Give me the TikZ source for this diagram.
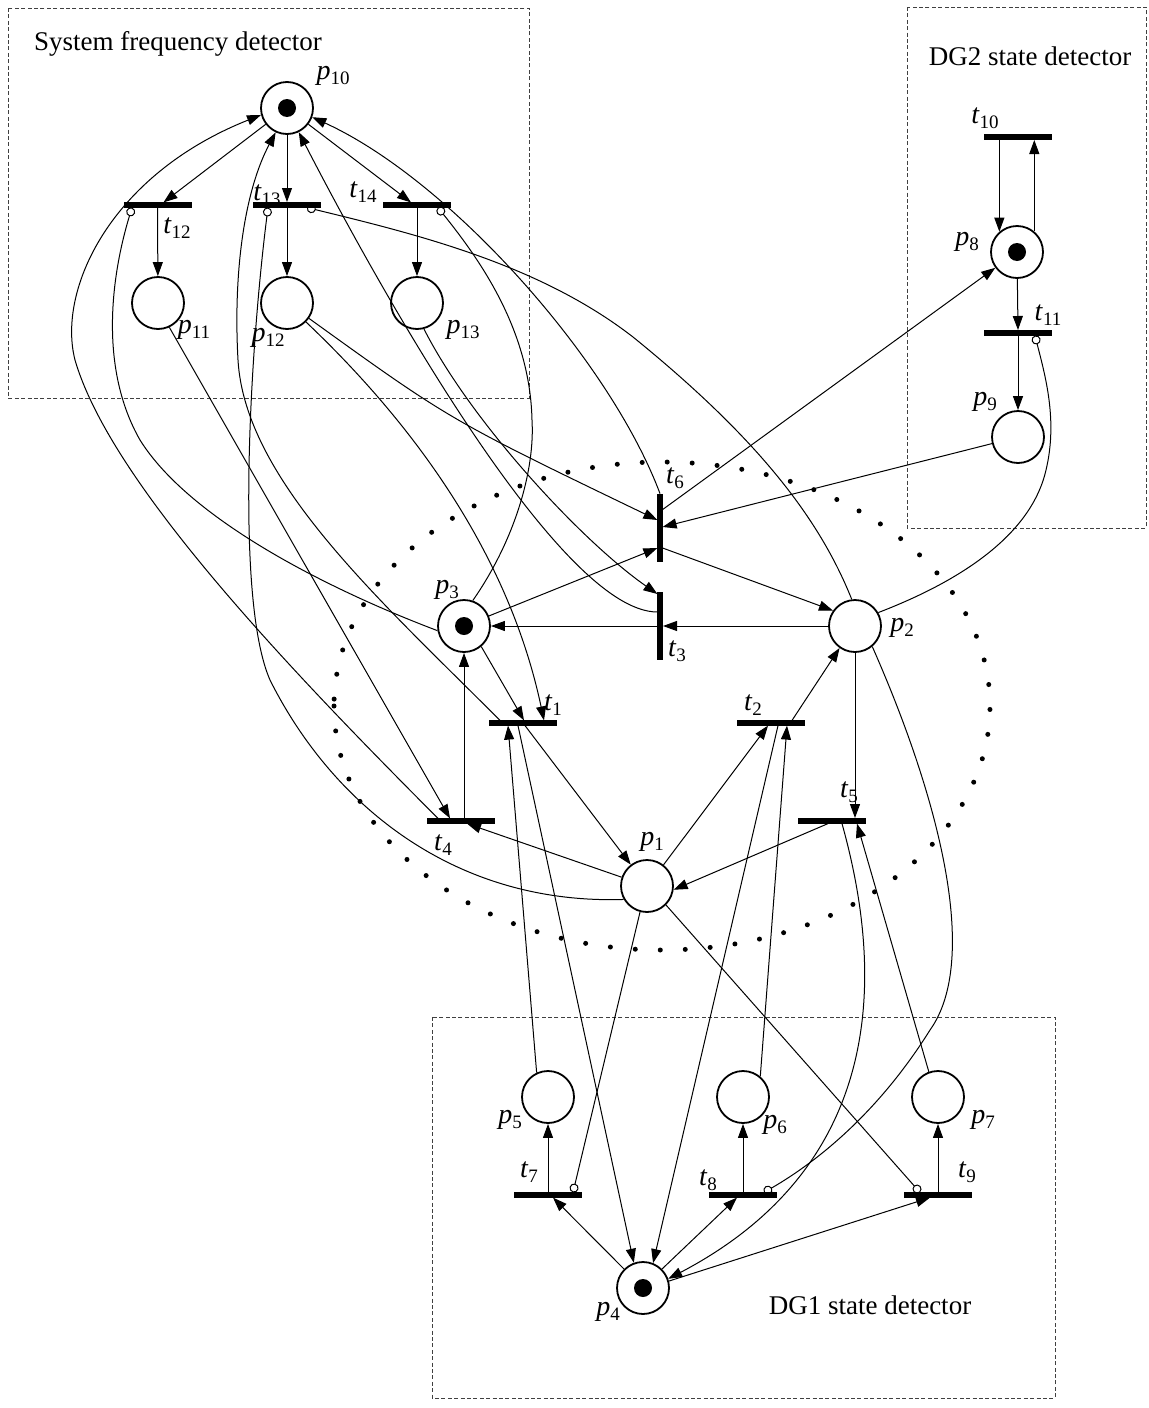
\documentclass[tikz,border=0pt]{standalone}
\usepackage{fontspec}
\setmainfont{Liberation Serif}
\usetikzlibrary{arrows.meta,calc}
\pgfdeclarelayer{bg}
\pgfsetlayers{bg,main}
% italic letter with a lowered upright index
\newcommand\plabel[2]{\textit{#1}\raisebox{-0.35ex}{\fontsize{9.5}{9.5}\selectfont #2}}
\begin{document}
\begin{tikzpicture}[x=0.5pt,y=-0.5pt,
  place/.style={circle,draw,line width=0.9pt,minimum size=26pt,inner sep=0pt},
  hbar/.style={rectangle,fill=black,minimum width=34pt,minimum height=2.6pt,inner sep=0pt},
  vbar/.style={rectangle,fill=black,minimum width=2.6pt,minimum height=34pt,inner sep=0pt},
  token/.style={circle,fill=black,minimum size=9pt,inner sep=0pt},
  lab/.style={inner sep=0pt,font=\fontsize{14}{14}\selectfont},
  title/.style={inner sep=0pt,font=\fontsize{13.5}{16}\selectfont},
  arc/.style={line width=0.5pt,-{Triangle[length=7pt,width=5pt]}},
  inh/.style={line width=0.5pt,-{Circle[open,length=4.5pt,width=4.5pt,line width=0.5pt]}},
  box/.style={draw=black!75,line width=0.5pt,dash pattern=on 2pt off 1.2pt},
]
\useasboundingbox (0,0) rectangle (1149,1408);

% places
\node[place] (p10) at (287,108) {}; \node[token] (k10) at (p10) {};
\node[place] (p11) at (158,303) {};
\node[place] (p12) at (287,303) {};
\node[place] (p13) at (417,303) {};
\node[place] (p8) at (1017,252) {}; \node[token] (k8) at (p8) {};
\node[place] (p9) at (1018,437) {};
\node[place] (p3) at (464,626) {}; \node[token] (k3) at (p3) {};
\node[place] (p2) at (855,626) {};
\node[place] (p1) at (647,886) {};
\node[place] (p5) at (548,1097) {};
\node[place] (p6) at (743,1097) {};
\node[place] (p7) at (938,1097) {};
\node[place] (p4) at (643,1288) {}; \node[token] (k4) at (p4) {};

% transitions
\node[hbar] (t12) at (157.5,205) {};
\node[hbar] (t13) at (287,205) {};
\node[hbar] (t14) at (417,205) {};
\node[hbar] (t10) at (1018,137) {};
\node[hbar] (t11) at (1018,333) {};
\node[vbar] (t6) at (660,528) {};
\node[vbar] (t3) at (660,626) {};
\node[hbar] (t1) at (523,723) {};
\node[hbar] (t2) at (771,723) {};
\node[hbar] (t4) at (461,821) {};
\node[hbar] (t5) at (832,821) {};
\node[hbar] (t7) at (548,1195) {};
\node[hbar] (t8) at (743,1195) {};
\node[hbar] (t9) at (938,1195) {};

% labels
\node[lab] (lp10) at (333,76) {\plabel{p}{10}};
\node[lab] (lt12) at (177,228) {\plabel{t}{12}};
\node[lab] (lt13) at (267,195) {\plabel{t}{13}};
\node[lab] (lt14) at (363,192) {\plabel{t}{14}};
\node[lab] (lp11) at (194,330) {\plabel{p}{11}};
\node[lab] (lp12) at (268,338) {\plabel{p}{12}};
\node[lab] (lp13) at (463,330) {\plabel{p}{13}};
\node[lab] (lt10) at (985,118) {\plabel{t}{10}};
\node[lab] (lp8) at (967,242) {\plabel{p}{8}};
\node[lab] (lt11) at (1048,315) {\plabel{t}{11}};
\node[lab] (lp9) at (985,402) {\plabel{p}{9}};
\node[lab] (lt6) at (675,478) {\plabel{t}{6}};
\node[lab] (lt3) at (677,651) {\plabel{t}{3}};
\node[lab] (lp3) at (447,590) {\plabel{p}{3}};
\node[lab] (lp2) at (902,628) {\plabel{p}{2}};
\node[lab] (lt1) at (553,705) {\plabel{t}{1}};
\node[lab] (lt2) at (753,705) {\plabel{t}{2}};
\node[lab] (lt4) at (443,845) {\plabel{t}{4}};
\node[lab] (lt5) at (849,792) {\plabel{t}{5}};
\node[lab] (lp1) at (652,842) {\plabel{p}{1}};
\node[lab] (lp5) at (510,1120) {\plabel{p}{5}};
\node[lab] (lp6) at (775,1125) {\plabel{p}{6}};
\node[lab] (lp7) at (983,1120) {\plabel{p}{7}};
\node[lab] (lt7) at (529,1172) {\plabel{t}{7}};
\node[lab] (lt8) at (708,1180) {\plabel{t}{8}};
\node[lab] (lt9) at (967,1172) {\plabel{t}{9}};
\node[lab] (lp4) at (608,1312) {\plabel{p}{4}};

\node[title] (sfd) at (178,44) {System frequency detector};
\node[title] (dg2) at (1030,56) {DG2 state detector};
\node[title] (dg1) at (870,1305) {DG1 state detector};

\begin{pgfonlayer}{bg}
% dashed frames of the three detectors
\draw[box] (8,8) rectangle (529,398);
\draw[box] (907,7) rectangle (1146,528);
\draw[box] (432,1017) rectangle (1055,1398);

% dotted ring round the DG core
\draw[line width=2.5pt,line cap=round,dash pattern=on 0pt off 12.5pt]
  (334,706) arc[start angle=180,end angle=-180,x radius=328,y radius=244];

% system frequency detector
\draw[arc] (p10) -- (t13.north);
\draw[arc] (p10) -- ($(t12)+(6,-2.6)$);
\draw[arc] (p10) -- ($(t14)+(-6,-2.6)$);
\draw[arc] (t12) -- (p11);
\draw[arc] (t13) -- (p12);
\draw[arc] (t14) -- (p13);

% DG2 state detector
\draw[arc] (p8.131 |- t10.south) -- (p8.131);
\draw[arc] (p8.50) -- (p8.50 |- t10.south);
\draw[arc] (p8) -- (t11.north);
\draw[arc] (t11) -- (p9);
\draw[inh] (p2.30) .. controls (950,585) and (1030,540) .. (1046,470)
  .. controls (1058,420) and (1045,375) .. ($(t11)+(17,2.6)$);

% t6
\draw[arc] (p9) -- ($(t6)+(2.6,-1)$);
\draw[arc] ($(t6)+(2,-18)$) -- (p8);
\draw[arc] (p3) -- ($(t6)+(-2.6,20)$);
\draw[arc] ($(t6)+(2.6,20)$) -- (p2.145);
\draw[arc] (p12.-35) .. controls (450,420) .. ($(t6)+(-2.6,-8)$);
\draw[arc] (t6.north) .. controls (610,360) and (450,180) .. (p10.-20);

% t3
\draw[arc] (p2) -- (t3.east);
\draw[arc] (t3.west) -- (p3);
\draw[arc] (p13.-75) .. controls (470,420) and (580,540) .. ($(t3)+(-2.6,-32)$);
\draw[arc] ($(t3)+(-2.6,-14)$) .. controls (560,612) and (380,290) .. (p10.-64);

% inhibitor arcs into the frequency detector
\draw[inh] (p3.71) .. controls (515,540) and (535,470) .. (532,420)
  .. controls (530,330) and (480,260) .. ($(t14)+(21,2.6)$);
\draw[inh] (p3.190) .. controls (330,590) and (190,520) .. (140,440)
  .. controls (100,370) and (110,280) .. ($(t12)+(-25.5,2.6)$);
\draw[inh] (p2.97) .. controls (820,520) and (760,440) .. (633,337)
  .. controls (540,265) and (420,235) .. ($(t13)+(20,2.6)$);
\draw[inh] (p1.210) .. controls (450,905) and (330,800) .. (270,680)
  .. controls (235,600) and (250,350) .. ($(t13)+(-19,2.6)$);

% t1
\draw[arc] ($(t1)+(-23,-2.6)$) .. controls (380,600) and (245,480) .. (238,360)
  .. controls (233,270) and (245,190) .. (p10.-115);
\draw[arc] (p3.-50) -- ($(t1)+(1,-2.6)$);
\draw[arc] (p12.-45) .. controls (420,430) and (510,560) .. ($(t1)+(21,-2.6)$);
\draw[arc] ($(t1)+(2,2.6)$) -- (p1);
\draw[arc] ($(t1)+(-5,2.6)$) -- (p4.110);
\draw[arc] (p5.115) -- ($(t1)+(-15,2.6)$);

% t4
\draw[arc] ($(t4)+(-23,-2.6)$) .. controls (280,660) and (110,480) .. (75,360)
  .. controls (57,290) and (110,175) .. (p10.195);
\draw[arc] (p11.-65) -- ($(t4)+(-11,-2.6)$);
\draw[arc] (p3 |- t4.north) -- (p3);
\draw[arc] (p1) -- ($(t4)+(6,2.6)$);

% t2
\draw[arc] (p1.52) -- ($(t2)+(-3,2.6)$);
\draw[arc] ($(t2)+(21,-2.6)$) -- (p2.235);
\draw[arc] ($(t2)+(7,2.6)$) -- (p4.68);
\draw[arc] (p6.50) -- ($(t2)+(16,2.6)$);

% t5
\draw[arc] (p2.south) -- (p2.south |- t5.north);
\draw[arc] ($(t5)+(-4,2.6)$) -- (p1.-8);
\draw[arc] (p7.110) -- ($(t5)+(25,2.6)$);
\draw[arc] ($(t5)+(10,2.6)$) .. controls (880,960) and (895,1160) .. (p4.20);
\draw[inh] (p2.-50) .. controls (940,800) and (980,960) .. (930,1030)
  .. controls (880,1110) and (820,1160) .. ($(t8)+(21,-2.6)$);

% DG1 state detector
\draw[inh] (p1.-105) -- ($(t7)+(25,-2.6)$);
\draw[inh] (p1.-45) -- ($(t9)+(-18,-2.6)$);
\draw[arc] (p4.135) -- ($(t7)+(5,2.6)$);
\draw[arc] (p4.45) -- ($(t8)+(-6,2.6)$);
\draw[arc] (p4.15) -- ($(t9)+(-8,2.6)$);
\draw[arc] (t7) -- (p5);
\draw[arc] (t8) -- (p6);
\draw[arc] (t9) -- (p7);
\end{pgfonlayer}
\end{tikzpicture}
\end{document}
